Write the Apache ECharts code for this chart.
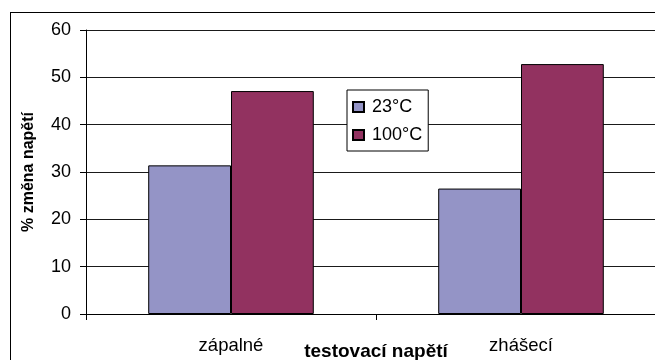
<!DOCTYPE html>
<html>
<head>
<meta charset="utf-8">
<script src="https://cdn.jsdelivr.net/npm/echarts@6/dist/echarts.min.js"></script>
<style>
  html, body { margin: 0; padding: 0; overflow: hidden; background: #fff; width: 655px; height: 360px; }
  #frame { position: absolute; left: 10px; top: 12px; border: 1px solid #000; }
  #chart { width: 680px; height: 360px; }
</style>
</head>
<body>
<div id="frame"><div id="chart"></div></div>
<script>
// Test voltages and the measured relative change at two temperatures
const categories = ['zápalné', 'zhášecí'];
const seriesNames = ['23°C', '100°C'];
const values23 = [31.4, 26.5];
const values100 = [47.1, 52.8];
const yTicks = { min: 0, max: 60, interval: 10 };

const font = 'Liberation Sans, Arial, sans-serif';
const chart = echarts.init(document.getElementById('chart'), null, { renderer: 'canvas' });

chart.setOption({
  animation: false,
  backgroundColor: '#fff',
  grid: { left: 75, top: 17, right: 25, bottom: 59, outerBoundsMode: 'none', containLabel: false },
  legend: {
    orient: 'vertical',
    left: 336,
    top: 77,
    data: seriesNames,
    backgroundColor: '#fff',
    borderColor: '#000',
    borderWidth: 1,
    padding: [8, 6, 7, 5],
    itemWidth: 11,
    itemHeight: 10,
    itemGap: 10,
    icon: 'rect',
    textStyle: { fontFamily: font, fontSize: 18, color: '#000', padding: [0, 0, 0, 3] }
  },
  xAxis: {
    type: 'category',
    data: categories,
    name: 'testovací napětí',
    nameLocation: 'middle',
    nameGap: 28,
    nameMoveOverlap: false,
    nameTextStyle: { fontFamily: font, fontSize: 19, fontWeight: 'bold', color: '#000' },
    axisLine: { lineStyle: { color: '#000', width: 1 } },
    axisTick: { show: true, alignWithLabel: false, length: 6, lineStyle: { color: '#000' } },
    axisLabel: { fontFamily: font, fontSize: 18.5, color: '#000', margin: 22 }
  },
  yAxis: {
    type: 'value',
    min: yTicks.min,
    max: yTicks.max,
    interval: yTicks.interval,
    name: '% změna napětí',
    nameLocation: 'middle',
    nameRotate: 90,
    nameGap: 49,
    nameMoveOverlap: false,
    nameTextStyle: { fontFamily: font, fontSize: 16, fontWeight: 'bold', color: '#000' },
    axisLine: { show: true, lineStyle: { color: '#000', width: 1 } },
    axisTick: { show: true, inside: false, length: 6, lineStyle: { color: '#000' } },
    axisLabel: { fontFamily: font, fontSize: 18, color: '#000', margin: 15 },
    splitLine: { show: true, lineStyle: { color: '#1a1a1a', width: 1 } }
  },
  series: [
    {
      name: seriesNames[0],
      type: 'bar',
      data: values23,
      barGap: '0%',
      barCategoryGap: '42.9%',
      itemStyle: { color: '#9494c6', borderColor: '#000', borderWidth: 1 }
    },
    {
      name: seriesNames[1],
      type: 'bar',
      data: values100,
      itemStyle: { color: '#923260', borderColor: '#000', borderWidth: 1 }
    }
  ]
});
</script>
</body>
</html>
